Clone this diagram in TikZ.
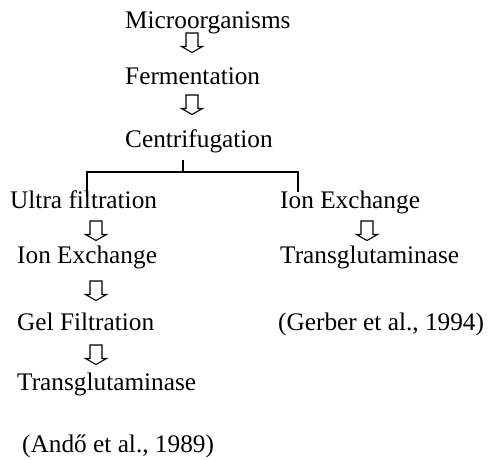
\documentclass[tikz,border=0pt]{standalone}
\usepackage{fontspec}
\setmainfont{Liberation Serif}
\newcommand\holarrow[1]{\draw[arrowline] (#1) ++(-6,0) -- ++(0,13.5) -- ++(-4.5,0) -- ++(10.5,6) -- ++(10.5,-6) -- ++(-4.5,0) -- ++(0,-13.5) -- cycle;}
\begin{document}
\begin{tikzpicture}[x=1pt,y=-1pt,
  lbl/.style={anchor=base west,inner sep=0pt,font=\fontsize{25.3}{30}\selectfont},
  arrowline/.style={draw=black,line width=1.1pt,line join=miter},
  tree/.style={draw=black,line width=1.8pt}]
\useasboundingbox (0,0) rectangle (488,459);
\node[lbl] (micro) at (125,28) {Microorganisms};
\node[lbl] (ferm) at (125,84) {Fermentation};
\node[lbl] (cent) at (125,147) {Centrifugation};
\node[lbl] (ultra) at (10,208) {Ultra filtration};
\node[lbl] (ionl) at (17,263) {Ion Exchange};
\node[lbl] (gel) at (17,330) {Gel Filtration};
\node[lbl] (tgl) at (17,390) {Transglutaminase};
\node[lbl] (ando) at (22,452) {(Andő et al., 1989)};
\node[lbl] (ionr) at (280,208) {Ion Exchange};
\node[lbl] (tgr) at (280,263) {Transglutaminase};
\node[lbl] (gerber) at (278,330) {(Gerber et al., 1994)};
\coordinate (a1) at (192,33);
\coordinate (a2) at (192,95);
\coordinate (a3) at (96,221);
\coordinate (a4) at (96,281);
\coordinate (a5) at (96,345);
\coordinate (a6) at (367,221);
\holarrow{a1}
\holarrow{a2}
\holarrow{a3}
\holarrow{a4}
\holarrow{a5}
\holarrow{a6}
\coordinate (ctop) at (183,160);
\coordinate (cmid) at (183,172);
\coordinate (lc) at (87,172);
\coordinate (rc) at (298,172);
\coordinate (lb) at (87,196);
\coordinate (rb) at (298,191);
\draw[tree] (ctop) -- (cmid);
\draw[tree,line cap=rect] (lb) -- (lc) -- (rc) -- (rb);
\end{tikzpicture}
\end{document}
